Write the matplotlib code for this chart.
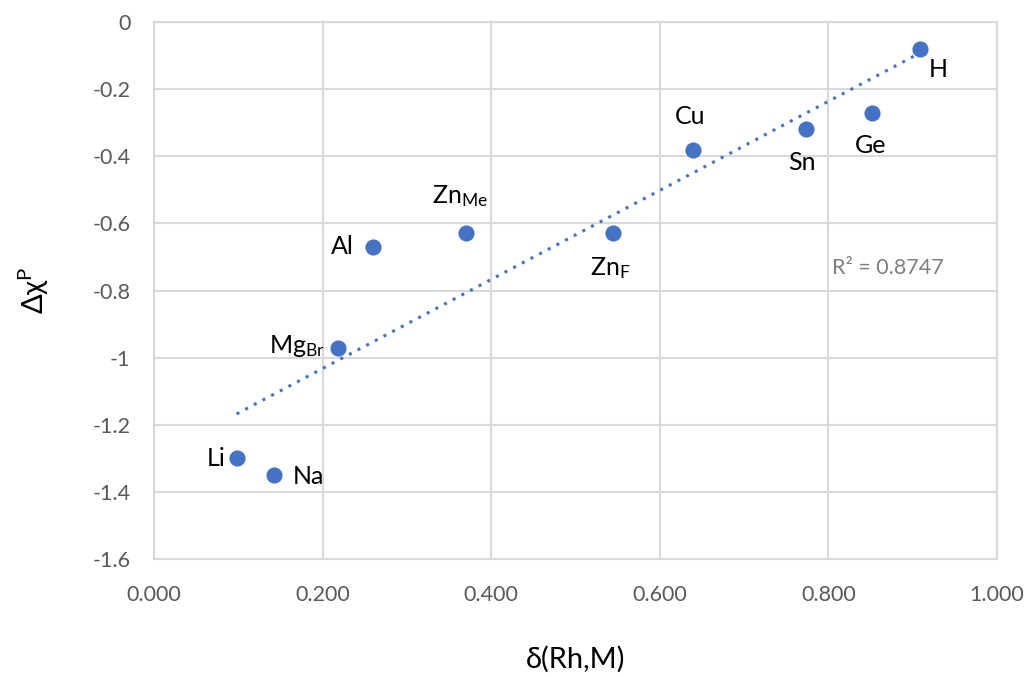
import numpy as np
import matplotlib
matplotlib.use("Agg")
import matplotlib.pyplot as plt

plt.rcParams['font.family'] = ['Lato', 'DejaVu Sans']
plt.rcParams['mathtext.fontset'] = 'custom'
plt.rcParams['mathtext.rm'] = 'Lato'
plt.rcParams['mathtext.it'] = 'Lato:italic'
plt.rcParams['axes.unicode_minus'] = False

# Data
labels = ['Li', 'Na', r'Mg$_{\mathrm{Br}}$', 'Al', r'Zn$_{\mathrm{Me}}$', r'Zn$_{\mathrm{F}}$',
          'Cu', 'Sn', 'Ge', 'H']
delta_rh_m = [0.098, 0.142, 0.218, 0.260, 0.370, 0.545, 0.639, 0.774, 0.852, 0.909]
delta_chi_p = [-1.30, -1.35, -0.97, -0.67, -0.63, -0.63, -0.38, -0.32, -0.27, -0.08]
x_ticks = [0.0, 0.2, 0.4, 0.6, 0.8, 1.0]
y_ticks = [0, -0.2, -0.4, -0.6, -0.8, -1.0, -1.2, -1.4, -1.6]

# Label placement (offset in points, horizontal alignment)
label_offsets = [(-8, 0, 'right'), (14, -1, 'left'), (-9, 1, 'right'), (-14, 0, 'right'),
                 (-4, 27, 'center'), (-2, -25, 'center'), (-2, 24, 'center'),
                 (-3, -24, 'center'), (-1, -24, 'center'), (13, -15, 'center')]

blue = '#4472C4'
fig = plt.figure(figsize=(10.32, 6.77), dpi=100)
ax = fig.add_axes([0.1492, 0.1743, 0.8169, 0.7932])

# Linear trendline
coef = np.polyfit(delta_rh_m, delta_chi_p, 1)
xs = np.array([min(delta_rh_m), max(delta_rh_m)])
ax.plot(xs, np.polyval(coef, xs), linestyle=(0, (1, 2.2)), color=blue, lw=2.2, zorder=2)

ax.scatter(delta_rh_m, delta_chi_p, s=135, color=blue, zorder=3, linewidths=0)

for lab, x, y, (dx, dy, ha) in zip(labels, delta_rh_m, delta_chi_p, label_offsets):
    ax.annotate(lab, (x, y), xytext=(dx, dy), textcoords='offset points',
                ha=ha, va='center', fontsize=18, color='black')

ax.text(0.804, -0.733, 'R² = 0.8747', fontsize=15.5, color='#7f7f7f',
        ha='left', va='center')

ax.set_xlim(0, 1.0)
ax.set_ylim(-1.6, 0)
ax.set_xticks(x_ticks)
ax.set_xticklabels([f'{v:.3f}' for v in x_ticks])
ax.set_yticks(y_ticks)
ax.set_yticklabels([f'{v:g}' for v in y_ticks])
ax.tick_params(axis='y', length=0, labelsize=15.5, labelcolor='#595959', pad=17)
ax.tick_params(axis='x', length=0, labelsize=15.5, labelcolor='#595959', pad=19)
ax.grid(True, color='#d9d9d9', lw=1.5)
ax.set_axisbelow(True)
for s in ax.spines.values():
    s.set_color('#d9d9d9')
    s.set_linewidth(1.5)

ax.set_xlabel('δ(Rh,M)', fontsize=21, labelpad=29)
ax.set_ylabel(r'Δχ$^{\mathrm{P}}$', fontsize=21, labelpad=30)

fig.savefig('out.png', dpi=100, facecolor='white')
